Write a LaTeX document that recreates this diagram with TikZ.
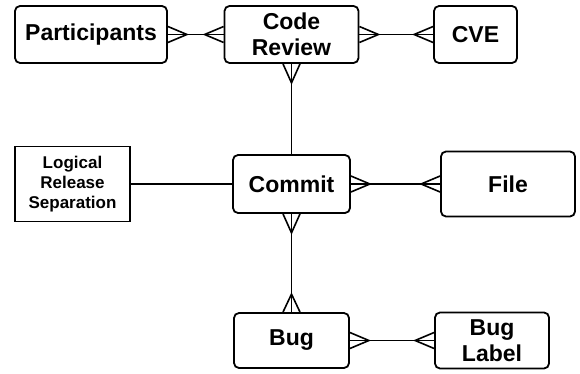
\documentclass[tikz,border=0pt]{standalone}
\usepackage{fontspec}
\setmainfont{Liberation Sans}
\usepackage{tikz}

\tikzset{
  entity/.style={draw, line width=1.8pt, rounded corners=5pt, align=center,
    font=\fontsize{23}{26}\selectfont\bfseries, inner sep=0pt},
  plainbox/.style={draw, line width=1.8pt, align=center,
    font=\fontsize{17}{20}\selectfont\bfseries, inner sep=0pt},
  conn/.style={line width=1.6pt}
}

\begin{document}
\begin{tikzpicture}[x=1pt, y=-1pt]
  \useasboundingbox (0,0) rectangle (580,374);

  % Entidades
  \node[entity, minimum width=152, minimum height=57] (part) at (91,34.5) {Participants};
  \node[entity, minimum width=134, minimum height=57] (cr) at (291.5,34.5) {Code\\Review};
  \node[entity, minimum width=83, minimum height=57] (cve) at (475.5,34.5) {CVE};
  \node[plainbox, minimum width=115, minimum height=75] (lrs) at (72.5,184) {Logical\\Release\\Separation};
  \node[entity, minimum width=117, minimum height=58] (cm) at (291.5,184) {Commit};
  \node[entity, minimum width=134, minimum height=65] (file) at (508,184) {File};
  \node[entity, minimum width=115, minimum height=55] (bug) at (291.5,340.5) {Bug};
  \node[entity, minimum width=114, minimum height=56] (bl) at (492,340.5) {Bug\\Label};

  % Relaciones
  \draw[conn] (part.east) -- (cr.west);
  \draw[conn] (cr.east) -- (cve.west);
  \draw[conn] (cr.south) -- (cm.north);
  \draw[conn] (lrs.east) -- (cm.west);
  \draw[conn] (cm.east) -- (file.west);
  \draw[conn] (cm.south) -- (bug.north);
  \draw[conn] (bug.east) -- (bl.west);

  % Patas de gallo (muchos)
  \foreach \n in {part, cr, cm, bug} {
    \draw[conn] ([yshift=8]\n.east) -- ([xshift=19]\n.east) -- ([yshift=-8]\n.east);
  }
  \foreach \n in {cr, cve, file, bl} {
    \draw[conn] ([yshift=8]\n.west) -- ([xshift=-19]\n.west) -- ([yshift=-8]\n.west);
  }
  \foreach \n in {cr, cm} {
    \draw[conn] ([xshift=-8.5]\n.south) -- ([yshift=-19]\n.south) -- ([xshift=8.5]\n.south);
  }
  \draw[conn] ([xshift=-8.5]bug.north) -- ([yshift=18]bug.north) -- ([xshift=8.5]bug.north);
\end{tikzpicture}
\end{document}
